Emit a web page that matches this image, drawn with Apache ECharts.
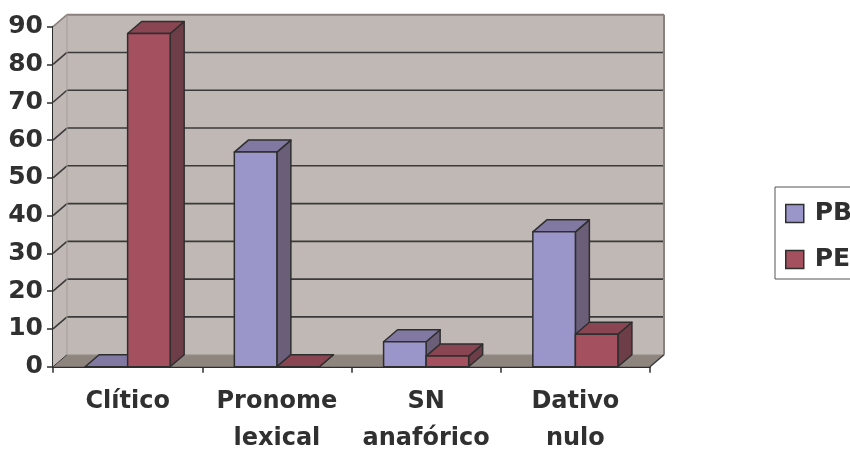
<!DOCTYPE html>
<html>
<head>
<meta charset="utf-8">
<script src="https://cdn.jsdelivr.net/npm/echarts@6/dist/echarts.min.js"></script>
<style>
  html, body { margin: 0; padding: 0; background: #fff; }
  #chart { width: 850px; height: 453px; }
</style>
</head>
<body>
<div id="chart"></div>
<script>
// Categories and series values (percent)
const categories = ['Clítico', 'Pronome\nlexical', 'SN\nanafórico', 'Dativo\nnulo'];
const seriesNames = ['PB', 'PE'];
const pbValues = [0, 56.8, 6.6, 35.7];
const peValues = [88.2, 0, 2.8, 8.6];
const yTicks = [0, 10, 20, 30, 40, 50, 60, 70, 80, 90];

// 3D look: depth offset of the box faces, and face colours
const DX = 14, DY = -12;
const FONT = 'DejaVu Sans';
const INK = '#303030';
const faces = {
  PB: { front: '#9A96CA', side: '#6A5E79', top: '#8279A3' },
  PE: { front: '#A4505F', side: '#6E3E48', top: '#8A4552' }
};
const wallColor = '#C0B8B5';
const floorColor = '#8E857F';
const edgeColor = '#8A807D';

const chart = echarts.init(document.getElementById('chart'), null, { renderer: 'canvas' });

// Walls, floor and gridlines of the 3D plot box
function renderWalls(params, api) {
  const cs = params.coordSys;
  const x0 = cs.x, x1 = cs.x + cs.width;
  const yBottom = api.coord([0, 0])[1];
  const yTop = api.coord([0, yTicks[yTicks.length - 1]])[1];
  const children = [];
  // back wall
  children.push({
    type: 'rect',
    shape: { x: x0 + DX, y: yTop + DY, width: x1 - x0, height: yBottom - yTop },
    style: { fill: wallColor }
  });
  // left side wall
  children.push({
    type: 'polygon',
    shape: { points: [[x0, yTop], [x0 + DX, yTop + DY], [x0 + DX, yBottom + DY], [x0, yBottom]] },
    style: { fill: wallColor }
  });
  // floor
  children.push({
    type: 'polygon',
    shape: { points: [[x0, yBottom], [x1, yBottom], [x1 + DX, yBottom + DY], [x0 + DX, yBottom + DY]] },
    style: { fill: floorColor }
  });
  // gridlines: diagonal on the side wall, horizontal on the back wall
  yTicks.forEach(function (t) {
    const y = api.coord([0, t])[1];
    const last = t === yTicks[yTicks.length - 1];
    const first = t === 0;
    children.push({
      type: 'line',
      shape: { x1: x0, y1: y, x2: x0 + DX, y2: y + DY },
      style: { stroke: last ? edgeColor : '#3A3A3A', lineWidth: first ? 1 : 1.6 }
    });
    if (!first) {
      children.push({
        type: 'line',
        shape: { x1: x0 + DX, y1: y + DY, x2: x1 + DX, y2: y + DY },
        style: { stroke: last ? edgeColor : '#3A3A3A', lineWidth: last ? 2 : 1.6 }
      });
    }
  });
  // back wall right edge and left back corner
  children.push({
    type: 'line',
    shape: { x1: x1 + DX, y1: yTop + DY, x2: x1 + DX, y2: yBottom + DY },
    style: { stroke: edgeColor, lineWidth: 2 }
  });
  children.push({
    type: 'line',
    shape: { x1: x0 + DX, y1: yTop + DY, x2: x0 + DX, y2: yBottom + DY },
    style: { stroke: '#A59C98', lineWidth: 1 }
  });
  // floor back edge and right edge
  children.push({
    type: 'line',
    shape: { x1: x0 + DX, y1: yBottom + DY, x2: x1 + DX, y2: yBottom + DY },
    style: { stroke: '#A39A96', lineWidth: 1 }
  });
  children.push({
    type: 'line',
    shape: { x1: x1, y1: yBottom, x2: x1 + DX, y2: yBottom + DY },
    style: { stroke: '#3A3A3A', lineWidth: 1.5 }
  });
  return { type: 'group', children: children };
}

// One 3D box per data item; PB sits left of the category centre, PE right
function makeBarRenderer(name, side) {
  const c = faces[name];
  return function (params, api) {
    const cat = api.value(0);
    const val = api.value(1);
    const base = api.coord([cat, 0]);
    const topPt = api.coord([cat, val]);
    const band = api.size([1, 0])[0];
    const w = band * 0.285;
    const xa = side === 0 ? base[0] - w : base[0];
    const xb = xa + w;
    const yb = base[1], yt = topPt[1];
    const stroke = { stroke: '#2E2E2E', lineWidth: 1.5, lineJoin: 'round' };
    return {
      type: 'group',
      children: [
        {
          type: 'polygon',
          shape: { points: [[xb, yt], [xb + DX, yt + DY], [xb + DX, yb + DY], [xb, yb]] },
          style: Object.assign({ fill: c.side }, stroke)
        },
        {
          type: 'polygon',
          shape: { points: [[xa, yt], [xa + DX, yt + DY], [xb + DX, yt + DY], [xb, yt]] },
          style: Object.assign({ fill: c.top }, stroke)
        },
        {
          type: 'rect',
          shape: { x: xa, y: yt, width: w, height: yb - yt },
          style: Object.assign({ fill: c.front }, stroke)
        }
      ]
    };
  };
}

const option = {
  animation: false,
  backgroundColor: '#ffffff',
  grid: { left: 53, right: 200, top: 26.7, bottom: 86.3, containLabel: false, outerBoundsMode: 'none' },
  legend: {
    data: seriesNames,
    orient: 'vertical',
    left: 775,
    top: 187,
    padding: [14, 60, 7, 10],
    itemWidth: 18,
    itemHeight: 18,
    itemGap: 21,
    icon: 'rect',
    borderColor: '#555',
    borderWidth: 1,
    itemStyle: { borderColor: '#2E2E2E', borderWidth: 1.5 },
    textStyle: {
      fontFamily: FONT, fontWeight: 'bold', fontSize: 25, color: INK,
      lineHeight: 18, padding: [0, 0, 0, 6]
    }
  },
  xAxis: {
    type: 'category',
    data: categories,
    boundaryGap: true,
    axisLine: { show: true, lineStyle: { color: '#2E2E2E', width: 2 } },
    axisTick: { show: true, length: 6, alignWithLabel: false, lineStyle: { color: '#2E2E2E', width: 1.5 } },
    axisLabel: {
      margin: 17, interval: 0,
      fontFamily: FONT, fontWeight: 'bold', fontSize: 24, color: INK, lineHeight: 37
    },
    splitLine: { show: false }
  },
  yAxis: {
    type: 'value',
    min: 0, max: 90, interval: 10,
    axisLine: { show: true, lineStyle: { color: '#2E2E2E', width: 2 } },
    axisTick: { show: true, length: 6, lineStyle: { color: '#2E2E2E', width: 1.5 } },
    axisLabel: { margin: 10, fontFamily: FONT, fontWeight: 'bold', fontSize: 25, color: INK },
    splitLine: { show: false }
  },
  series: [
    {
      type: 'custom',
      name: 'walls',
      silent: true,
      clip: false,
      z: 1,
      renderItem: renderWalls,
      data: [[0, 0]],
      encode: { x: 0, y: 1 }
    },
    {
      type: 'custom',
      name: 'PB',
      clip: false,
      z: 2,
      itemStyle: { color: faces.PB.front },
      renderItem: makeBarRenderer('PB', 0),
      data: pbValues.map(function (v, i) { return [i, v]; }),
      encode: { x: 0, y: 1 }
    },
    {
      type: 'custom',
      name: 'PE',
      clip: false,
      z: 3,
      itemStyle: { color: faces.PE.front },
      renderItem: makeBarRenderer('PE', 1),
      data: peValues.map(function (v, i) { return [i, v]; }),
      encode: { x: 0, y: 1 }
    }
  ]
};

chart.setOption(option);
</script>
</body>
</html>
